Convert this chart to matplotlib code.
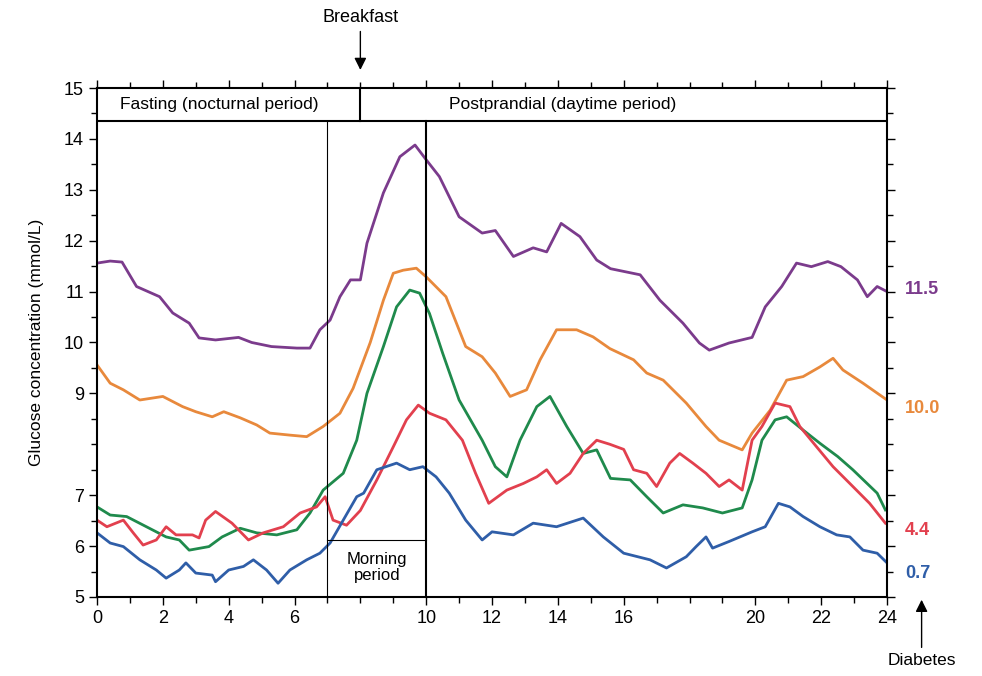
import numpy as np
import matplotlib
matplotlib.use('Agg')
import matplotlib.pyplot as plt

plt.rcParams['font.family'] = ['Liberation Sans', 'DejaVu Sans']

# glucose profiles over 24 h (hours, mmol/L)
t_purple = [0, 0.4, 0.76, 1.2, 1.9, 2.3, 2.8, 3.1, 3.6, 4.3, 4.7, 5.3, 6.07, 6.47, 6.77, 7.08, 7.38, 7.7, 8.0,
            8.2, 8.7, 9.2, 9.66, 10.0, 10.4, 11.0, 11.7, 12.1, 12.65, 13.25, 13.66, 14.1, 14.67, 15.18, 15.6,
            16.5, 17.1, 17.8, 18.3, 18.6, 19.2, 19.9, 20.3, 20.8, 21.25, 21.7, 22.2, 22.6, 23.1, 23.4, 23.7, 24]
g_purple = [11.56, 11.6, 11.58, 11.1, 10.9, 10.58, 10.38, 10.09, 10.05, 10.1, 10.0, 9.92, 9.89, 9.89, 10.25, 10.44, 10.9, 11.23, 11.23,
            11.95, 12.94, 13.65, 13.88, 13.59, 13.26, 12.47, 12.15, 12.2, 11.69, 11.86, 11.78, 12.34, 12.08, 11.62, 11.45,
            11.33, 10.83, 10.38, 9.99, 9.85, 9.99, 10.1, 10.7, 11.1, 11.56, 11.49, 11.59, 11.49, 11.23, 10.9, 11.1, 11.0]

t_orange = [0, 0.4, 0.8, 1.3, 2.0, 2.6, 3.0, 3.5, 3.85, 4.35, 4.85, 5.25, 5.86, 6.37, 6.87, 7.38, 7.78, 8.3,
            8.7, 9.0, 9.3, 9.7, 10.0, 10.6, 11.2, 11.7, 12.1, 12.55, 13.05, 13.46, 13.96, 14.57, 15.07, 15.58,
            16.3, 16.7, 17.2, 17.9, 18.5, 18.9, 19.6, 19.9, 20.45, 20.95, 21.45, 21.96, 22.36, 22.66, 23.27, 24]
g_orange = [9.56, 9.2, 9.07, 8.87, 8.94, 8.74, 8.64, 8.54, 8.64, 8.52, 8.38, 8.22, 8.18, 8.15, 8.35, 8.61, 9.1, 10.0,
            10.83, 11.36, 11.42, 11.46, 11.29, 10.9, 9.92, 9.72, 9.4, 8.94, 9.07, 9.66, 10.25, 10.25, 10.11, 9.88,
            9.66, 9.4, 9.26, 8.81, 8.35, 8.08, 7.89, 8.22, 8.67, 9.26, 9.33, 9.52, 9.69, 9.46, 9.2, 8.87]

t_green = [0, 0.4, 0.9, 1.5, 2.1, 2.5, 2.8, 3.4, 3.8, 4.35, 4.85, 5.46, 6.07, 6.47, 6.87, 7.48, 7.89, 8.2,
           8.7, 9.1, 9.5, 9.8, 10.1, 10.5, 11.0, 11.7, 12.1, 12.45, 12.85, 13.36, 13.76, 14.27, 14.77, 15.18,
           15.6, 16.2, 16.7, 17.2, 17.8, 18.4, 19.0, 19.6, 19.9, 20.2, 20.6, 20.95, 21.45, 21.96, 22.5, 22.96, 23.7, 23.95]
g_green = [6.77, 6.61, 6.58, 6.38, 6.18, 6.12, 5.92, 5.99, 6.18, 6.35, 6.26, 6.22, 6.32, 6.65, 7.1, 7.43, 8.08, 9.0,
           9.92, 10.7, 11.03, 10.97, 10.57, 9.79, 8.87, 8.08, 7.56, 7.36, 8.08, 8.74, 8.94, 8.35, 7.82, 7.89,
           7.33, 7.3, 6.97, 6.65, 6.81, 6.75, 6.65, 6.75, 7.3, 8.08, 8.48, 8.54, 8.28, 8.02, 7.76, 7.5, 7.04, 6.71]

t_red = [0, 0.3, 0.8, 1.1, 1.4, 1.8, 2.1, 2.4, 2.9, 3.1, 3.3, 3.6, 4.1, 4.6, 5.05, 5.66, 6.17, 6.67, 6.93, 7.17,
         7.58, 8.0, 8.5, 9.0, 9.4, 9.76, 10.1, 10.6, 11.1, 11.5, 11.9, 12.45, 12.95, 13.36, 13.66, 13.96, 14.37,
         14.77, 15.18, 15.58, 16.0, 16.3, 16.7, 17.0, 17.4, 17.7, 18.1, 18.5, 18.9, 19.2, 19.6, 19.9, 20.2, 20.6,
         21.05, 21.35, 21.86, 22.36, 22.87, 23.47, 23.95]
g_red = [6.51, 6.38, 6.51, 6.26, 6.02, 6.12, 6.38, 6.22, 6.22, 6.16, 6.51, 6.68, 6.45, 6.12, 6.26, 6.38, 6.65, 6.77, 6.97, 6.51,
         6.41, 6.7, 7.3, 7.95, 8.48, 8.77, 8.61, 8.48, 8.08, 7.43, 6.84, 7.1, 7.23, 7.36, 7.5, 7.23, 7.43,
         7.82, 8.08, 8.0, 7.9, 7.5, 7.43, 7.17, 7.63, 7.82, 7.63, 7.43, 7.17, 7.3, 7.1, 8.08, 8.35, 8.81,
         8.74, 8.35, 7.95, 7.56, 7.23, 6.84, 6.45]

t_blue = [0, 0.4, 0.8, 1.3, 1.8, 2.1, 2.5, 2.7, 3.0, 3.5, 3.6, 4.0, 4.45, 4.75, 5.15, 5.5, 5.86, 6.37, 6.77, 7.08,
          7.48, 7.89, 8.1, 8.5, 9.1, 9.5, 9.9, 10.3, 10.7, 11.2, 11.7, 12.0, 12.65, 13.25, 13.96, 14.77, 15.38,
          16.0, 16.8, 17.3, 17.9, 18.2, 18.5, 18.7, 19.2, 19.9, 20.3, 20.7, 21.05, 21.45, 21.96, 22.47, 22.87,
          23.27, 23.7, 24]
g_blue = [6.26, 6.06, 5.99, 5.73, 5.53, 5.37, 5.53, 5.67, 5.47, 5.43, 5.3, 5.53, 5.6, 5.73, 5.53, 5.27, 5.53, 5.73, 5.86, 6.06,
          6.51, 6.97, 7.04, 7.5, 7.63, 7.5, 7.56, 7.36, 7.04, 6.51, 6.12, 6.28, 6.22, 6.45, 6.38, 6.55, 6.18,
          5.86, 5.73, 5.57, 5.79, 5.99, 6.18, 5.96, 6.09, 6.28, 6.38, 6.84, 6.77, 6.58, 6.38, 6.22, 6.18,
          5.92, 5.86, 5.67]

end_labels = ['11.5', '10.0', '4.4', '0.7']
end_label_y = [11.05, 8.7, 6.3, 5.47]

c_purple = '#7b3b8c'
c_orange = '#e8893c'
c_green = '#1f8a4c'
c_red = '#e2404e'
c_blue = '#2f5ea8'

fig = plt.figure(figsize=(9.82, 6.76), dpi=100)
ax = fig.add_axes([0.0988, 0.1169, 0.8045, 0.7529])

ax.plot(t_purple, g_purple, color=c_purple, lw=2)
ax.plot(t_orange, g_orange, color=c_orange, lw=2)
ax.plot(t_green, g_green, color=c_green, lw=2)
ax.plot(t_red, g_red, color=c_red, lw=2)
ax.plot(t_blue, g_blue, color=c_blue, lw=2)

ax.set_xlim(0, 24)
ax.set_ylim(5, 15)
ax.set_xticks([0, 2, 4, 6, 10, 12, 14, 16, 20, 22, 24])
ax.set_xticks(np.arange(0, 25, 1), minor=True)
ax.set_yticks([5, 6, 7, 9, 10, 11, 12, 13, 14, 15])
ax.set_yticks(np.arange(5, 15.01, 0.5), minor=True)
ax.tick_params(which='both', direction='out', top=True, right=True, labelsize=13, width=1)
ax.tick_params(which='major', length=6)
ax.tick_params(which='minor', length=4)
for s in ax.spines.values():
    s.set_linewidth(1.5)

ax.set_ylabel('Glucose concentration (mmol/L)', fontsize=12.5, labelpad=14)

# period band at the top
ax.plot([0, 24], [14.35, 14.35], color='black', lw=1.5)
ax.plot([8, 8], [14.35, 15], color='black', lw=1.5)
ax.text(3.7, 14.68, 'Fasting (nocturnal period)', ha='center', va='center', fontsize=12.5)
ax.text(14.15, 14.68, 'Postprandial (daytime period)', ha='center', va='center', fontsize=12.5)

# morning period
ax.plot([7, 7], [5, 14.35], color='black', lw=0.8)
ax.plot([10, 10], [5, 14.35], color='black', lw=1.5)
ax.plot([7, 10], [6.12, 6.12], color='black', lw=0.8)
ax.text(8.5, 5.58, 'Morning\nperiod', ha='center', va='center', fontsize=12, linespacing=1.1)

for lab, y, c in zip(end_labels, end_label_y, [c_purple, c_orange, c_red, c_blue]):
    ax.text(24.55, y, lab, color=c, fontsize=13, fontweight='bold', va='center', ha='left')

ax.annotate('Breakfast', xy=(8, 15.3), xytext=(8, 16.22), ha='center', va='bottom', fontsize=13,
            annotation_clip=False,
            arrowprops=dict(arrowstyle='-|>', color='black', lw=1, mutation_scale=18))
ax.annotate('Diabetes', xy=(25.05, 5.0), xytext=(25.05, 3.9), ha='center', va='top', fontsize=12.5,
            annotation_clip=False,
            arrowprops=dict(arrowstyle='-|>', color='black', lw=1, mutation_scale=18))

fig.savefig('out.png', dpi=100)
